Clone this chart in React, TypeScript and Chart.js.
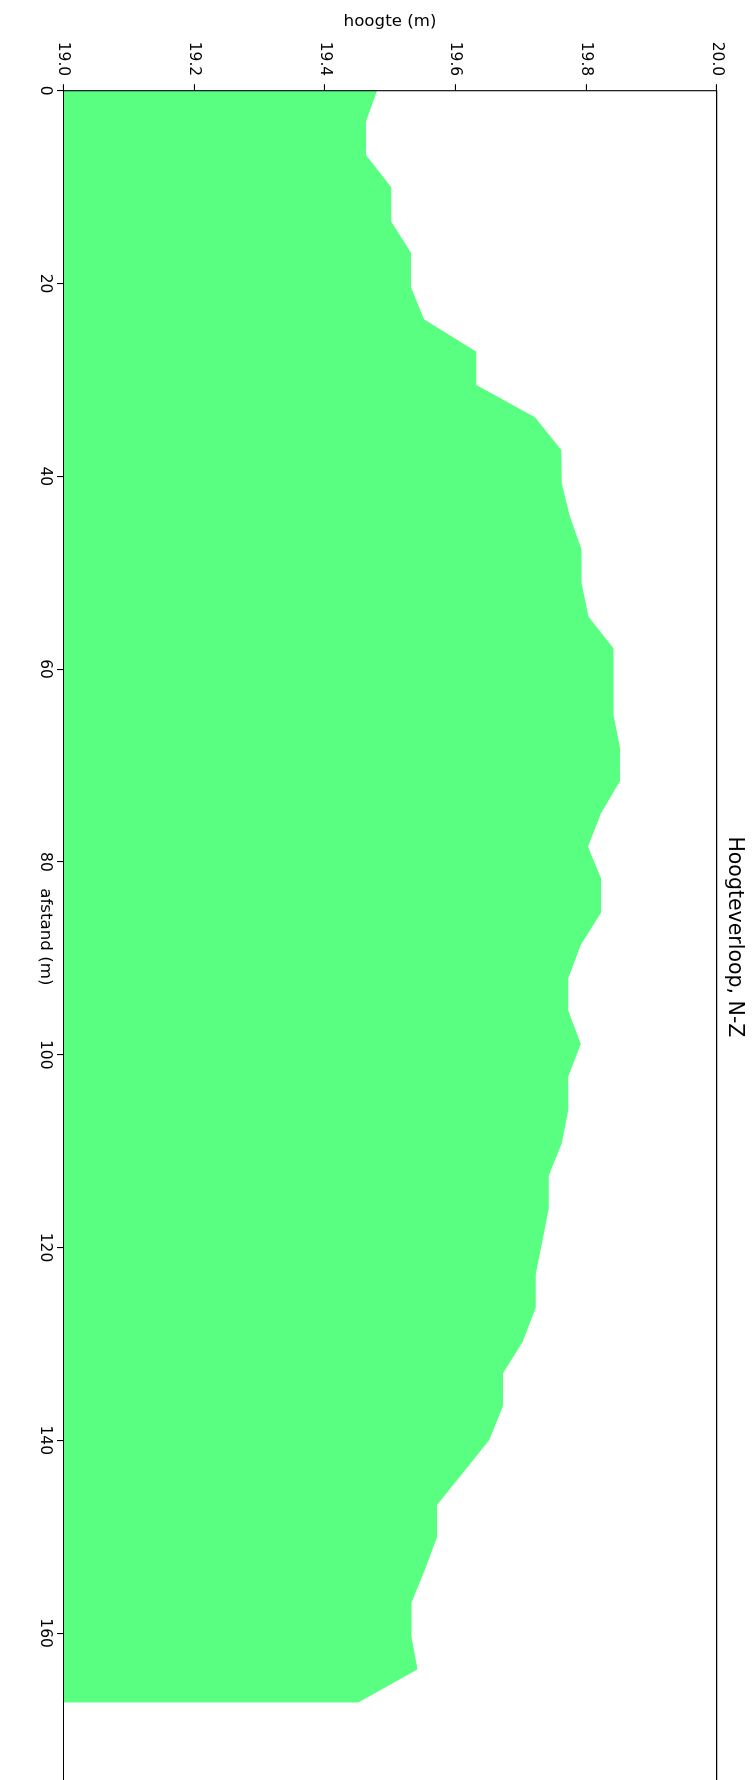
import React, { useEffect, useRef } from 'react';
import { Chart, registerables } from 'chart.js';

Chart.register(...registerables);

// afstand (m) along the profile, N → Z
const afstand = [
  0, 3.21, 6.67, 10.02, 13.59, 16.81, 20.39, 23.71, 27.07, 30.52,
  33.88, 37.27, 40.73, 44.12, 47.57, 51.03, 54.56, 57.85, 61.24, 64.76,
  68.15, 71.61, 74.96, 78.42, 81.7, 85.27, 88.62, 92.08, 95.43, 98.89,
  102.28, 105.74, 109.19, 112.55, 115.94, 119.4, 122.78, 126.24, 129.77, 133.05,
  136.44, 139.97, 143.34, 146.71, 150.06, 153.46, 156.85, 160.38, 163.76, 167.22,
];

// hoogte (m)
const hoogte = [
  19.48, 19.463, 19.463, 19.502, 19.502, 19.532, 19.532, 19.552, 19.632, 19.632,
  19.722, 19.762, 19.763, 19.775, 19.793, 19.793, 19.804, 19.842, 19.842, 19.842,
  19.852, 19.852, 19.823, 19.803, 19.823, 19.823, 19.792, 19.773, 19.773, 19.792,
  19.773, 19.773, 19.763, 19.743, 19.743, 19.733, 19.723, 19.723, 19.703, 19.673,
  19.673, 19.652, 19.612, 19.572, 19.572, 19.553, 19.533, 19.533, 19.542, 19.451,
];

const afstandTicks = [0, 20, 40, 60, 80, 100, 120, 140, 160];
const hoogteTicks = [19.0, 19.2, 19.4, 19.6, 19.8, 20.0];

const FONT = 'DejaVu Sans';
const W = 1790; // unrotated canvas width
const H = 753; // unrotated canvas height

const framePlugin = {
  id: 'frame',
  afterDraw(chart: any) {
    const { ctx, chartArea } = chart;
    const { left, top, right, bottom } = chartArea;
    ctx.save();
    ctx.strokeStyle = '#000';
    ctx.lineWidth = 1.1;
    ctx.beginPath();
    ctx.moveTo(left, bottom);
    ctx.lineTo(left, top);
    ctx.lineTo(right, top);
    ctx.lineTo(right, bottom);
    ctx.lineTo(left, bottom);
    ctx.stroke();
    ctx.restore();
  },
};

export default function App() {
  const ref = useRef<HTMLCanvasElement | null>(null);

  useEffect(() => {
    document.body.style.margin = '0';
    const canvas = ref.current;
    if (!canvas) return;
    const chart = new Chart(canvas, {
      type: 'line',
      data: {
        datasets: [
          {
            label: 'hoogte',
            data: afstand.map((a, i) => ({ x: a, y: hoogte[i] })),
            fill: 'start',
            backgroundColor: 'rgb(89,255,128)',
            borderColor: 'rgba(0,0,0,0)',
            borderWidth: 0,
            pointRadius: 0,
            tension: 0,
          },
        ],
      },
      options: {
        responsive: false,
        animation: false,
        devicePixelRatio: 1,
        events: [],
        layout: { padding: { left: 0, right: 7, top: 0, bottom: 0 } },
        plugins: {
          legend: { display: false },
          tooltip: { enabled: false },
          title: {
            display: true,
            fullSize: false,
            text: 'Hoogteverloop, N-Z',
            color: '#000',
            font: { family: FONT, size: 20.5, weight: 'normal', lineHeight: 1.2 },
            padding: { top: 6.5, bottom: 5.3 },
          },
        },
        scales: {
          x: {
            type: 'linear',
            position: 'bottom',
            min: 0,
            max: 175.55,
            afterBuildTicks: (s: any) => {
              s.ticks = afstandTicks.map((v) => ({ value: v }));
            },
            afterFit: (s: any) => {
              s.height = 63.5;
            },
            ticks: {
              color: '#000',
              font: { family: FONT, size: 15.5 },
              padding: 3,
              maxRotation: 0,
              autoSkip: false,
              callback: (v: any) => String(v),
            },
            grid: {
              display: true,
              drawOnChartArea: false,
              drawTicks: true,
              tickLength: 6.5,
              color: '#000',
              lineWidth: 1.1,
            },
            border: { display: false },
            title: {
              display: true,
              text: 'afstand (m)',
              color: '#000',
              font: { family: FONT, size: 16.7, lineHeight: 1.2 },
              padding: { top: 0, bottom: 35.4 },
            },
          },
          y: {
            type: 'linear',
            position: 'left',
            min: 19,
            max: 20,
            afterBuildTicks: (s: any) => {
              s.ticks = hoogteTicks.map((v) => ({ value: v }));
            },
            afterFit: (s: any) => {
              s.width = 90.7;
            },
            ticks: {
              color: '#000',
              font: { family: FONT, size: 15.5 },
              padding: 8,
              autoSkip: false,
              callback: (v: any) => Number(v).toFixed(1),
            },
            grid: {
              display: true,
              drawOnChartArea: false,
              drawTicks: true,
              tickLength: 6.5,
              color: '#000',
              lineWidth: 1.1,
            },
            border: { display: false },
            title: {
              display: true,
              text: 'hoogte (m)',
              color: '#000',
              font: { family: FONT, size: 16.7, lineHeight: 1.2 },
              padding: { top: 11.5, bottom: 0 },
            },
          },
        },
      },
      plugins: [framePlugin],
    } as any);
    return () => chart.destroy();
  }, []);

  return (
    <div
      style={{
        position: 'fixed',
        left: 0,
        top: 0,
        width: W,
        height: H,
        transformOrigin: '0 0',
        transform: `translateX(${H}px) rotate(90deg)`,
        background: '#fff',
      }}
    >
      <canvas ref={ref} width={W} height={H} style={{ display: 'block', width: W, height: H }} />
    </div>
  );
}
